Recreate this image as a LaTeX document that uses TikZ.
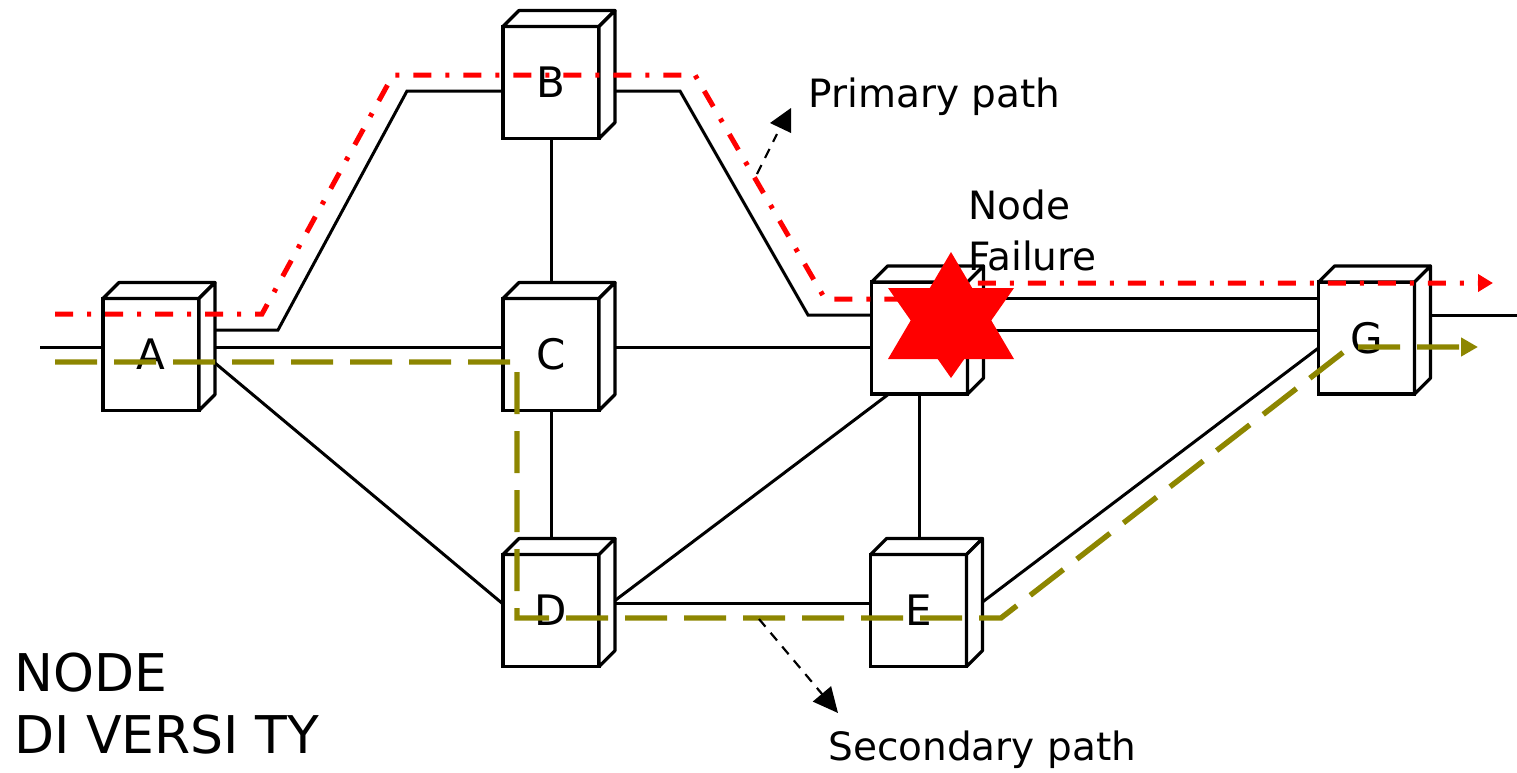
\documentclass[tikz,border=0pt]{standalone}
\usepackage{fontspec}
\setmainfont{DejaVu Sans}
\usetikzlibrary{calc,arrows.meta,backgrounds}
\begin{document}
\begin{tikzpicture}[x=0.5pt,y=-0.5pt,
  link/.style={line width=1.5pt},
  box/.style={draw, line width=1.6pt, fill=white, minimum width=48pt, minimum height=56pt,
    inner sep=0pt, outer sep=0pt, font=\fontsize{21pt}{25pt}\selectfont},
  face/.style={draw, line width=1.6pt, fill=white, line join=round},
  primary/.style={draw=red, line width=2.5pt, dash pattern=on 9pt off 7pt on 2pt off 7pt},
  secondary/.style={draw=olive, line width=2.7pt, dash pattern=on 21pt off 8.5pt},
  callout/.style={line width=1.1pt, dash pattern=on 5pt off 4pt},
  lbl/.style={font=\fontsize{19.5pt}{24pt}\selectfont, inner sep=0pt, anchor=base west},
  ttl/.style={font=\fontsize{26pt}{31pt}\selectfont, inner sep=0pt, anchor=base west}]
\useasboundingbox (0,0) rectangle (1517,772);

% network elements (front faces)
\node[box] (A) at (151,354.5) {A};
\node[box] (B) at (551,82.5) {B};
\node[box] (C) at (551,354.5) {C};
\node[box] (D) at (551,610.5) {D};
\node[box] (E) at (918.5,610.5) {E};
\node[box] (F) at (919.5,338) {};
\node[box] (G) at (1366.5,338) {G};

% 3D faces
\foreach \n in {A,B,C,D,E,F,G} {
  \draw[face] (\n.north west) -- ++(16,-16) -- ++(96,0) -- (\n.north east) -- cycle;
  \draw[face] (\n.north east) -- ++(16,-16) -- ++(0,112) -- (\n.south east) -- cycle;
  \coordinate (\n bk) at ($(\n.east)+(16,0)$);
}

% helper coordinates
\coordinate (in) at (40,347);
\coordinate (out) at (1517,315);
\coordinate (ab1) at (278,330);
\coordinate (ab2) at (407,91);
\coordinate (bf1) at (680,91);
\coordinate (bf2) at (808,315);

% links
\begin{pgfonlayer}{background}
\draw[link] (in) -- (in -| A.west);
\draw[link] (Abk |- in) -- (in -| C.west);
\draw[link] (Abk |- ab1) -- (ab1) -- (ab2) -- (ab2 -| B.west);
\draw[link] ($(A.east)+(16,8.5)$) -- ($(D.west)+(0,-6.5)$);
\draw[link] (B.south) -- (C.north);
\draw[link] (C.south) -- (D.north);
\draw[link] (Bbk |- bf1) -- (bf1) -- (bf2) -- (bf2 -| F.west);
\draw[link] (Cbk |- in) -- (in -| F.west);
\draw[link] ($(F.east)+(16,-40)$) -- ($(G.west)+(0,-40)$);
\draw[link] ($(F.east)+(16,-8)$) -- ($(G.west)+(0,-8)$);
\draw[link] (Gbk |- out) -- (out);
\draw[link] ($(G.west)+(0,10)$) -- ($(E.east)+(16,-8.5)$);
\draw[link] (F.south) -- (F.south |- E.north);
\draw[link] ($(F.south west)+(16,1)$) -- ($(D.east)+(16,-10)$);
\draw[link] ($(D.east)+(16,-7.5)$) -- ($(E.west)+(0,-7.5)$);
\end{pgfonlayer}

% primary path
\coordinate (p0) at (55,314);
\coordinate (p1) at (1493,283);
\draw[primary, -{Triangle[length=7.5pt,width=8.5pt]}] (p0) -- (262,314) -- (393,75) -- (695,75)
  -- (825,299) -- (930,299) -- (946,283) -- (p1);

% secondary path
\coordinate (s0) at (55,362);
\coordinate (s1) at (1478,347);
\draw[secondary, -{Triangle[length=8.5pt,width=9pt]}] (s0) -- (517,362) -- (517,618) -- (1001,618)
  -- (1350,347) -- (s1);

% node failure star
\fill[red] (951,252) -- (888,359) -- (1014,359) -- cycle;
\fill[red] (951,378) -- (888,288) -- (1014,288) -- cycle;

% callouts
\coordinate (pc1) at (757,174);
\coordinate (pc2) at (777,134);
\draw[callout] (pc1) -- (pc2);
\fill (770,123) -- (791,108) -- (791,133) -- cycle;
\coordinate (sc1) at (759,619);
\coordinate (sc2) at (838,713);
\draw[callout, -{Triangle[length=12.5pt,width=11.7pt]}] (sc1) -- (sc2);

% texts
\node[lbl] (tp) at (808,107) {Primary path};
\node[lbl] (tn1) at (968,219) {Node};
\node[lbl] (tn2) at (968,270) {Failure};
\node[lbl] (ts) at (828,760) {Secondary path};
\node[ttl] (t1) at (14,691) {NODE};
\node[ttl] (t2) at (14,753) {DI VERSI TY};
\end{tikzpicture}
\end{document}
